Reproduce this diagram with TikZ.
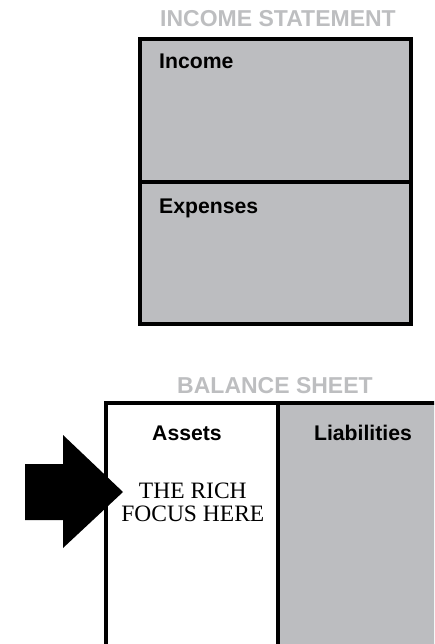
\documentclass[tikz,border=0pt]{standalone}
\usepackage{fontspec}
\setmainfont{Liberation Serif}
\setsansfont{Liberation Sans}
\definecolor{boxgray}{HTML}{BCBDC0}
\definecolor{titlegray}{HTML}{BDBEC0}
\begin{document}
\begin{tikzpicture}[x=1pt,y=-1pt,
  title/.style={font=\sffamily\bfseries\fontsize{23}{24}\selectfont, text=titlegray, inner sep=0pt, anchor=base},
  label/.style={font=\sffamily\bfseries\fontsize{21.2}{24}\selectfont, inner sep=0pt},
  frame/.style={line width=4pt, draw=black},
  focus/.style={font=\fontsize{23.5}{24}\selectfont, inner sep=0pt, anchor=base}]
\useasboundingbox (0,0) rectangle (434,644);
\clip (0,0) rectangle (434,644);
% Income statement
\node[title] (ist) at (278,26.7) {INCOME STATEMENT};
\fill[boxgray] (140,39.5) rectangle (410.5,323.5);
\draw[frame] (140,39.5) rectangle (410.5,323.5);
\draw[frame] (140,181.7) -- (410.5,181.7);
\node[label, anchor=base west] (inc) at (159,68.3) {Income};
\node[label, anchor=base west] (exp) at (159,213.3) {Expenses};
% Balance sheet
\node[title] (bst) at (275,393.3) {BALANCE SHEET};
\fill[white] (106,402.5) rectangle (278,660);
\fill[boxgray] (278,402.5) rectangle (460,660);
\draw[frame] (106,660) -- (106,402.5) -- (460,402.5);
\draw[frame] (278,402.5) -- (278,660);
\node[label, anchor=base] (ast) at (187,440.7) {Assets};
\node[label, anchor=base] (lia) at (363,440.7) {Liabilities};
\node[focus] (rich1) at (192.8,498.3) {THE RICH};
\node[focus] (rich2) at (192.8,521.7) {FOCUS HERE};
% Arrow
\fill[black] (25,464) -- (63,464) -- (63,435) -- (123,492) -- (63,548) -- (63,520) -- (25,520) -- cycle;
\end{tikzpicture}
\end{document}
